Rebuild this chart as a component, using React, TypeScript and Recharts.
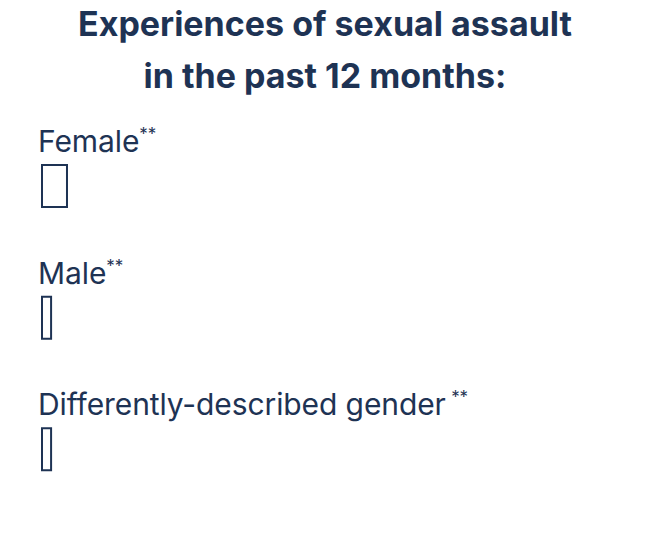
import React from 'react';
import { BarChart, Bar, XAxis, YAxis, LabelList } from 'recharts';

const categories = ['Female', 'Male', 'Differently-described gender\u2009'];
const values = [4.4, 1.6, 1.6];
const footnoteMarks = ['**', '**', '**'];

const navy = '#1e3354';
const font = 'Inter, "Noto Sans", sans-serif';

const data = categories.map((name, i) => ({ name, value: values[i], mark: footnoteMarks[i] }));

const CategoryLabel = (props: any) => {
  const { x, y, index } = props;
  const row = data[index];
  return (
    <text x={x - 4} y={y - 13} fill={navy} fontFamily={font} fontSize={30} letterSpacing={-0.1}>
      {row.name}
      <tspan dy={-12} fontSize={17}>{row.mark}</tspan>
    </text>
  );
};

export default function App() {
  return (
    <div style={{ position: 'absolute', left: 0, top: 0, width: 650, height: 534, background: '#fff' }}>
      <div
        style={{
          position: 'absolute', top: -2, left: 0, width: 650, textAlign: 'center',
          fontFamily: font, fontWeight: 700, fontSize: 34, lineHeight: '52px', color: navy,
        }}
      >
        Experiences of sexual assault
        <br />
        in the past 12 months:
      </div>
      <div style={{ position: 'absolute', top: 0, left: 0 }}>
        <BarChart
          width={650}
          height={534}
          data={data}
          layout="vertical"
          margin={{ top: 120, right: 40, bottom: 19, left: 42 }}
        >
          <XAxis type="number" domain={[0, 100]} hide />
          <YAxis type="category" dataKey="name" hide />
          <Bar dataKey="value" barSize={42} fill="#fff" stroke={navy} strokeWidth={2} isAnimationActive={false}>
            <LabelList dataKey="name" content={<CategoryLabel />} />
          </Bar>
        </BarChart>
      </div>
    </div>
  );
}
